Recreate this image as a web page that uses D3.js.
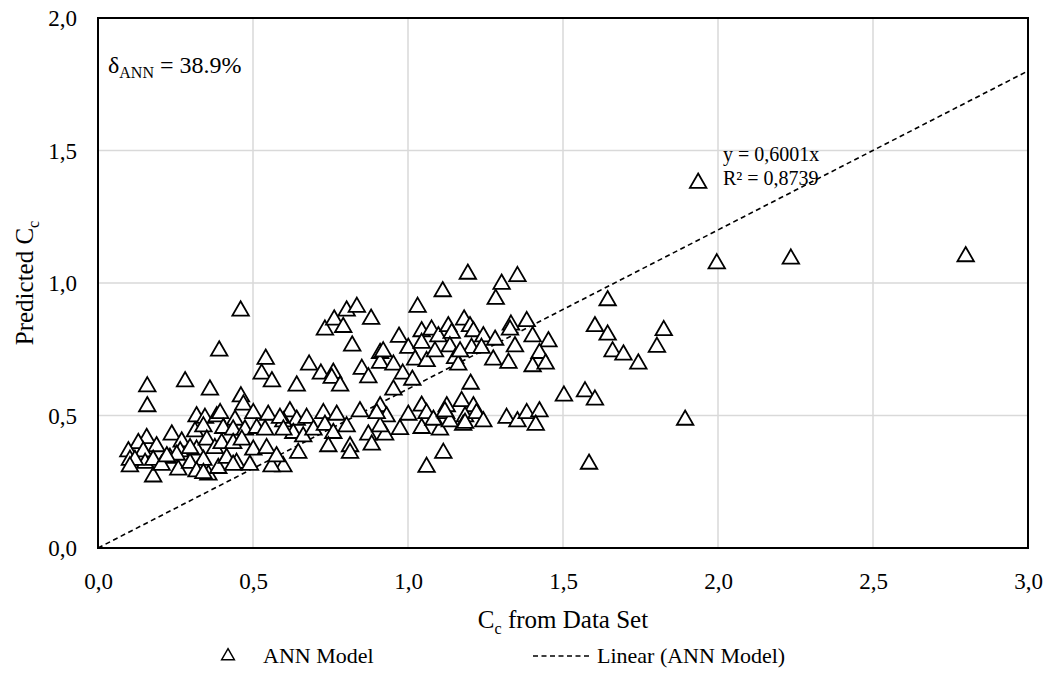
<!DOCTYPE html>
<html>
<head>
<meta charset="utf-8">
<script src="https://cdn.jsdelivr.net/npm/d3@7"></script>
<style>
  body { margin: 0; background: #fff; }
</style>
</head>
<body>
<svg id="chart" width="1050" height="676"></svg>
<script>
// Data (C_c from data set vs. predicted C_c)
var ccData = [
  0.159, 0.159, 0.281, 0.361, 0.391, 0.460, 0.461, 0.541, 0.528, 0.561,
  0.641, 0.681, 0.719, 0.759, 0.754, 0.781, 0.732, 0.762, 0.802, 0.835,
  0.791, 0.881, 0.820, 0.851, 0.872, 0.910, 0.910, 1.193, 1.353, 1.302,
  1.112, 1.283, 1.031, 1.644, 1.603, 1.644, 1.825, 1.803, 1.660, 1.695,
  1.743, 1.503, 1.571, 1.603, 1.894, 1.936, 1.996, 2.235, 2.799, 1.584,
  0.971, 1.001, 0.920, 0.953, 0.983, 1.014, 0.953, 1.044, 1.044, 1.023,
  1.060, 1.076, 1.098, 1.087, 1.130, 1.141, 1.135, 1.152, 1.162, 1.181,
  1.200, 1.211, 1.205, 1.168, 1.243, 1.237, 1.275, 1.281, 1.324, 1.332,
  1.329, 1.345, 1.383, 1.402, 1.453, 1.424, 1.402, 1.444, 1.202, 0.910,
  1.044, 1.060, 1.001, 0.974, 1.044, 1.103, 1.082, 1.123, 1.125, 1.173,
  1.211, 1.184, 1.221, 1.243, 1.178, 1.135, 1.318, 1.353, 1.383, 1.424,
  1.412, 0.931, 0.926, 1.114, 1.060, 0.619, 0.641, 0.673, 0.598, 0.630,
  0.662, 0.695, 0.727, 0.732, 0.770, 0.759, 0.802, 0.813, 0.813, 0.845,
  0.872, 0.883, 0.910, 0.899, 0.743, 0.646, 0.598, 1.119, 1.184, 0.469,
  0.318, 0.345, 0.383, 0.394, 0.442, 0.501, 0.549, 0.587, 0.313, 0.340,
  0.404, 0.436, 0.474, 0.512, 0.539, 0.157, 0.238, 0.270, 0.130, 0.189,
  0.098, 0.146, 0.232, 0.265, 0.318, 0.351, 0.377, 0.399, 0.436, 0.464,
  0.501, 0.544, 0.103, 0.152, 0.178, 0.178, 0.205, 0.259, 0.297, 0.340,
  0.356, 0.318, 0.388, 0.415, 0.447, 0.490, 0.560, 0.576, 0.254, 0.297,
  0.222, 0.119, 0.598, 0.103, 0.340, 0.436
];
var ccPredicted = [
  0.609, 0.534, 0.628, 0.597, 0.744, 0.895, 0.571, 0.713, 0.657, 0.628,
  0.612, 0.691, 0.657, 0.660, 0.641, 0.612, 0.823, 0.861, 0.895, 0.909,
  0.833, 0.864, 0.763, 0.675, 0.643, 0.735, 0.698, 1.034, 1.025, 0.996,
  0.968, 0.939, 0.909, 0.934, 0.836, 0.804, 0.821, 0.758, 0.741, 0.729,
  0.695, 0.574, 0.590, 0.559, 0.483, 1.377, 1.073, 1.091, 1.100, 0.317,
  0.796, 0.754, 0.741, 0.691, 0.657, 0.634, 0.597, 0.817, 0.773, 0.710,
  0.704, 0.823, 0.798, 0.741, 0.836, 0.811, 0.760, 0.716, 0.691, 0.861,
  0.836, 0.817, 0.754, 0.741, 0.798, 0.754, 0.710, 0.785, 0.698, 0.842,
  0.823, 0.760, 0.855, 0.798, 0.779, 0.735, 0.685, 0.695, 0.619, 0.534,
  0.536, 0.508, 0.502, 0.448, 0.452, 0.446, 0.483, 0.508, 0.534, 0.553,
  0.534, 0.496, 0.508, 0.477, 0.464, 0.477, 0.490, 0.477, 0.508, 0.515,
  0.464, 0.496, 0.427, 0.358, 0.305, 0.515, 0.483, 0.490, 0.477, 0.433,
  0.420, 0.446, 0.508, 0.464, 0.502, 0.433, 0.458, 0.383, 0.358, 0.515,
  0.427, 0.389, 0.458, 0.508, 0.383, 0.358, 0.307, 0.515, 0.471, 0.540,
  0.496, 0.490, 0.496, 0.508, 0.483, 0.508, 0.502, 0.490, 0.439, 0.458,
  0.452, 0.446, 0.446, 0.452, 0.446, 0.414, 0.427, 0.401, 0.395, 0.383,
  0.364, 0.364, 0.339, 0.364, 0.370, 0.408, 0.376, 0.395, 0.395, 0.408,
  0.370, 0.376, 0.332, 0.320, 0.332, 0.269, 0.313, 0.295, 0.320, 0.332,
  0.276, 0.288, 0.301, 0.339, 0.320, 0.313, 0.307, 0.345, 0.351, 0.376,
  0.345, 0.332, 0.446, 0.307, 0.282, 0.313
];
var xTicks = [0, 0.5, 1.0, 1.5, 2.0, 2.5, 3.0];
var yTicks = [0, 0.5, 1.0, 1.5, 2.0];
var trendSlope = 0.6001;
var trendR2 = "0,8739";
var deltaAnn = "38.9%";

var serif = "Liberation Serif";

var svg = d3.select("#chart"),
    margin = { top: 18, right: 22, bottom: 128, left: 98 },
    width = +svg.attr("width") - margin.left - margin.right,
    height = +svg.attr("height") - margin.top - margin.bottom,
    g = svg.append("g").attr("transform", "translate(" + margin.left + "," + margin.top + ")");

var x = d3.scaleLinear().domain([0, 3]).range([0, width]),
    y = d3.scaleLinear().domain([0, 2]).range([height, 0]);

var comma = function (v) { return d3.format(".1f")(v).replace(".", ","); };

// gridlines
g.append("g")
    .selectAll("line.vgrid")
    .data(xTicks.slice(1, -1))
    .enter().append("line")
    .attr("x1", function (d) { return x(d); })
    .attr("x2", function (d) { return x(d); })
    .attr("y1", 0).attr("y2", height)
    .attr("stroke", "#d9d9d9").attr("stroke-width", 1.5);

g.append("g")
    .selectAll("line.hgrid")
    .data(yTicks.slice(1, -1))
    .enter().append("line")
    .attr("y1", function (d) { return y(d); })
    .attr("y2", function (d) { return y(d); })
    .attr("x1", 0).attr("x2", width)
    .attr("stroke", "#d9d9d9").attr("stroke-width", 1.5);

// tick labels via axes (no tick marks)
var xAxis = g.append("g")
    .attr("transform", "translate(0," + height + ")")
    .call(d3.axisBottom(x).tickValues(xTicks).tickFormat(comma).tickSize(0).tickPadding(25));
var yAxis = g.append("g")
    .call(d3.axisLeft(y).tickValues(yTicks).tickFormat(comma).tickSize(0).tickPadding(21));
[xAxis, yAxis].forEach(function (a) {
    a.select(".domain").remove();
    a.attr("font-size", 23);
});
yAxis.selectAll("text").attr("dy", "0.33em");

// trend line
var trend = d3.line()
    .x(function (d) { return x(d); })
    .y(function (d) { return y(trendSlope * d); });
g.append("path")
    .datum([0, 3])
    .attr("d", trend)
    .attr("fill", "none")
    .attr("stroke", "#000")
    .attr("stroke-width", 1.6)
    .attr("stroke-dasharray", "5,3.5");

// points
var points = ccData.map(function (v, i) { return { x: v, y: ccPredicted[i] }; });
var tri = d3.symbol().type(d3.symbolTriangle).size(118);
g.append("g")
    .selectAll("path")
    .data(points)
    .enter().append("path")
    .attr("d", tri)
    .attr("transform", function (d) { return "translate(" + x(d.x) + "," + y(d.y) + ")"; })
    .attr("fill", "#fff")
    .attr("stroke", "#000")
    .attr("stroke-width", 1.8);

// plot border
g.append("rect")
    .attr("width", width).attr("height", height)
    .attr("fill", "none").attr("stroke", "#000").attr("stroke-width", 2);

// annotations
var delta = g.append("text").attr("x", 10).attr("y", 55).attr("font-size", 24);
delta.append("tspan").text("\u03b4");
delta.append("tspan").attr("dy", 5).attr("font-size", 16).text("ANN");
delta.append("tspan").attr("dy", -5).text(" = " + deltaAnn);

g.append("text").attr("x", 625).attr("y", 143).attr("font-size", 20)
    .text("y = " + String(trendSlope.toFixed(4)).replace(".", ",") + "x");
g.append("text").attr("x", 625).attr("y", 167).attr("font-size", 20)
    .text("R\u00b2 = " + trendR2);

// axis titles
var xt = svg.append("text")
    .attr("x", margin.left + width / 2)
    .attr("y", 628)
    .attr("text-anchor", "middle")
    .attr("font-size", 25);
xt.append("tspan").text("C");
xt.append("tspan").attr("dy", 6).attr("font-size", 16).text("c");
xt.append("tspan").attr("dy", -6).text(" from Data Set");

var yt = svg.append("text")
    .attr("transform", "translate(33," + (margin.top + height / 2) + ") rotate(-90)")
    .attr("text-anchor", "middle")
    .attr("font-size", 25);
yt.append("tspan").text("Predicted C");
yt.append("tspan").attr("dy", 6).attr("font-size", 16).text("c");

// legend
var legend = svg.append("g").attr("transform", "translate(0,663)");
legend.append("path")
    .attr("d", d3.symbol().type(d3.symbolTriangle).size(70))
    .attr("transform", "translate(228,-7)")
    .attr("fill", "#fff").attr("stroke", "#000").attr("stroke-width", 1.5);
legend.append("text").attr("x", 263).attr("y", 0).attr("font-size", 22).text("ANN Model");
legend.append("line")
    .attr("x1", 533).attr("x2", 590).attr("y1", -7).attr("y2", -7)
    .attr("stroke", "#000").attr("stroke-width", 1.6).attr("stroke-dasharray", "5,3.5");
legend.append("text").attr("x", 597).attr("y", 0).attr("font-size", 22).text("Linear (ANN Model)");

// one serif family for every label
svg.selectAll("g").attr("font-family", null);
svg.selectAll("text").attr("font-family", serif).attr("fill", "#000");
</script>
</body>
</html>
